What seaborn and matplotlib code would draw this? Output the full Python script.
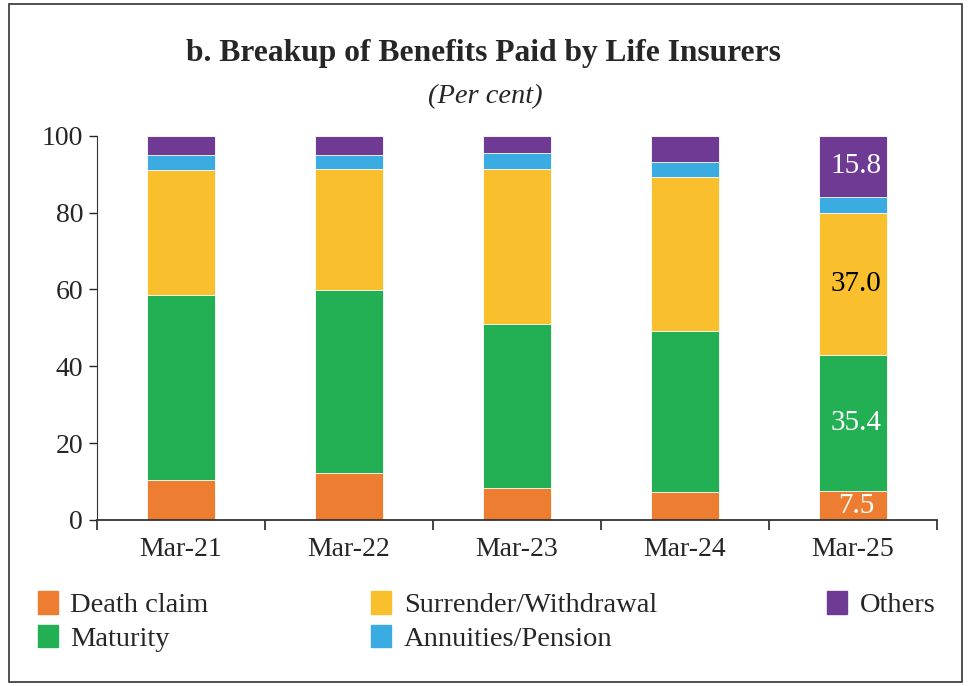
import pandas as pd
import matplotlib.pyplot as plt
import matplotlib.patches as mpatches
import seaborn as sns

# Data (per cent of benefits paid)
years = ['Mar-21', 'Mar-22', 'Mar-23', 'Mar-24', 'Mar-25']
death_claim = [10.4, 12.2, 8.2, 7.2, 7.5]
maturity = [48.1, 47.6, 42.9, 42.1, 35.4]
surrender = [32.5, 31.5, 40.2, 39.9, 37.0]
annuities = [4.1, 3.8, 4.2, 4.1, 4.3]
others = [4.9, 4.9, 4.5, 6.7, 15.8]

series_names = ['Death claim', 'Maturity', 'Surrender/Withdrawal', 'Annuities/Pension', 'Others']
series_values = [death_claim, maturity, surrender, annuities, others]
colors = ['#ED7D31', '#23AF53', '#F9BF2C', '#3AACE2', '#6F3A93']

# Build table with cumulative tops for a stacked look
df = pd.DataFrame(dict(zip(series_names, series_values)), index=years)
cum = df.cumsum(axis=1)
cum['Year'] = years

sns.set_style('white')
plt.rcParams['font.family'] = ['Liberation Serif', 'DejaVu Serif']

fig = plt.figure(figsize=(9.7, 6.86), dpi=100)
ax = fig.add_axes([0.1, 0.242, 0.866, 0.56])

# Draw tallest (cumulative) first so lower segments sit on top
for name, color in reversed(list(zip(series_names, colors))):
    sns.barplot(data=cum, x='Year', y=name, color=color, width=0.4,
                edgecolor='white', linewidth=0.6, saturation=1, ax=ax, zorder=2)

# Data labels for last year
last = years[-1]
label_colors = {'Death claim': 'white', 'Maturity': 'white',
                'Surrender/Withdrawal': 'black', 'Others': 'white'}
for name, tc in label_colors.items():
    top = cum.loc[last, name]
    val = df.loc[last, name]
    ax.text(len(years) - 1 + 0.02, top - val / 2, f'{val:.1f}', ha='center', va='center',
            fontsize=21, color=tc, zorder=5)

ax.set_xlim(-0.5, len(years) - 0.5)
ax.set_ylim(0, 100)
ax.set_yticks(range(0, 101, 20))
ax.set_xlabel('')
ax.set_ylabel('')
ax.tick_params(axis='y', which='major', direction='out', length=6, width=1, labelsize=20, pad=4, left=True)
ax.tick_params(axis='x', which='major', length=0, labelsize=20, pad=12)
ax.set_xticks([i - 0.5 for i in range(len(years) + 1)], minor=True)
ax.tick_params(axis='x', which='minor', direction='out', length=7, width=1.2, bottom=True)
for s in ['top', 'right']:
    ax.spines[s].set_visible(False)
ax.spines['left'].set_color('#333333')
ax.spines['bottom'].set_color('#333333')
ax.spines['bottom'].set_linewidth(1.3)

fig.text(0.498, 0.922, 'b. Breakup of Benefits Paid by Life Insurers', ha='center', va='center',
         fontsize=22.7, fontweight='bold')
fig.text(0.500, 0.859, '(Per cent)', ha='center', va='center', fontsize=20.5, style='italic')

# Legend in three columns placed like the original
handles = [mpatches.Patch(color=c, label=n) for n, c in zip(series_names, colors)]
leg_kw = dict(frameon=False, fontsize=20.5, handlelength=0.7, handleheight=0.85,
              handletextpad=0.45, labelspacing=0.22, borderaxespad=0, loc='upper left')
fig.legend(handles=handles[0:2], bbox_to_anchor=(0.027, 0.155), **leg_kw)
fig.legend(handles=handles[2:4], bbox_to_anchor=(0.371, 0.155), **leg_kw)
fig.legend(handles=handles[4:5], bbox_to_anchor=(0.841, 0.155), **leg_kw)

# Outer frame
fig.patches.append(mpatches.Rectangle((0.009, 0.006), 0.983, 0.988, transform=fig.transFigure,
                                      fill=False, edgecolor='#333333', linewidth=1.2))

fig.savefig('out.png', dpi=100)
